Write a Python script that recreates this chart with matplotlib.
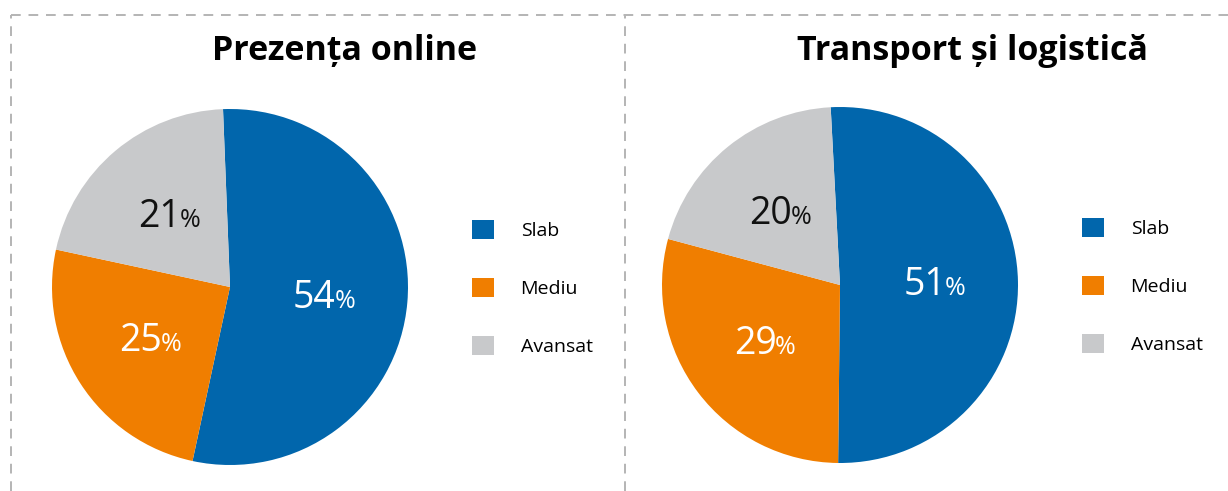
import matplotlib.pyplot as plt
import numpy as np
from matplotlib.lines import Line2D

W, H = 1228, 491

BLUE = "#0166ac"
ORANGE = "#f07e00"
GREY = "#c8c9cb"
DASH = "#b4b4b4"

categories = ["Slab", "Mediu", "Avansat"]
titles = ["Prezența online", "Transport și logistică"]
online_values = [54, 25, 21]
transport_values = [51, 29, 20]
label_colors = ["white", "white", "#111111"]

plt.rcParams["font.family"] = ["Open Sans", "DejaVu Sans"]


def draw_pie(fig, values, title, cx, cy, r, start, title_x, legend_x):
    # axes placed in pixel space so that one data unit == r pixels
    left, right, top, bottom = cx - 200, cx + 200, cy - 200, 464
    ax = fig.add_axes([left / W, 1 - bottom / H, (right - left) / W, (bottom - top) / H])
    wedges, _ = ax.pie(values, colors=[BLUE, ORANGE, GREY], startangle=start,
                       counterclock=False, radius=1, frame=True,
                       wedgeprops=dict(linewidth=0))
    ax.set_xlim((left - cx) / r, (right - cx) / r)
    ax.set_ylim((cy - bottom) / r, (cy - top) / r)
    ax.set_aspect("auto")
    ax.axis("off")

    for w, v, c in zip(wedges, values, label_colors):
        mid = np.deg2rad((w.theta1 + w.theta2) / 2)
        x, y = 0.53 * np.cos(mid), 0.53 * np.sin(mid)
        ax.text(x + 0.065, y - 0.07, str(v), ha="right", va="baseline",
                fontsize=27, color=c)
        ax.text(x + 0.058, y - 0.07, "%", ha="left", va="baseline",
                fontsize=18, color=c)

    fig.text(title_x / W, 1 - 51 / H, title, ha="center", va="center",
             fontsize=24.5, fontweight="bold", color="black")

    ax.legend(wedges, categories, loc="center left",
              bbox_to_anchor=(legend_x / W, 1 - (cy + 1) / H),
              bbox_transform=fig.transFigure, frameon=False,
              fontsize=14, handlelength=1.15, handleheight=1.15,
              handletextpad=1.35, labelspacing=1.95, borderpad=0,
              borderaxespad=0)


fig = plt.figure(figsize=(W / 100, H / 100), dpi=100)

draw_pie(fig, online_values, titles[0], 230, 287, 178, 92.25, 345, 472)
draw_pie(fig, transport_values, titles[1], 840, 285, 178, 93.0, 972, 1082)

# dashed frame
dash_kw = dict(color=DASH, lw=1.4, linestyle=(0, (5, 4)), transform=fig.transFigure)
fig.add_artist(Line2D([11 / W, 1], [1 - 15 / H, 1 - 15 / H], **dash_kw))
fig.add_artist(Line2D([11 / W, 11 / W], [0, 1 - 15 / H], **dash_kw))
fig.add_artist(Line2D([625 / W, 625 / W], [0, 1 - 15 / H], **dash_kw))

fig.savefig("out.png", dpi=100)
